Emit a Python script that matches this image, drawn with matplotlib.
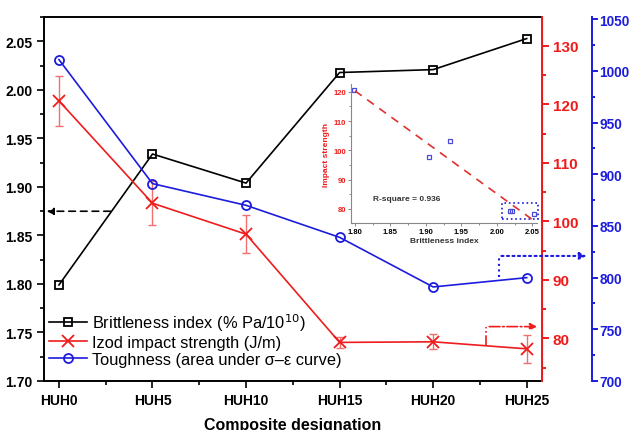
import matplotlib.pyplot as plt
from matplotlib.ticker import MultipleLocator

plt.rcParams['font.family'] = ['Liberation Sans', 'DejaVu Sans']

# data
samples = ['HUH0', 'HUH5', 'HUH10', 'HUH15', 'HUH20', 'HUH25']
brittleness = [1.799, 1.934, 1.904, 2.018, 2.021, 2.053]
impact = [120.6, 103.1, 97.8, 79.3, 79.4, 78.2]
impact_err = [4.3, 3.8, 3.2, 0.9, 1.3, 2.4]
toughness = [1011, 891, 870, 839, 791, 800]

fit_x = [1.80, 2.05]
fit_y = [120.3, 76.4]

x = list(range(len(samples)))

fig = plt.figure(figsize=(6.3, 4.31), dpi=100)
ax = fig.add_axes([0.0698, 0.1137, 0.790, 0.844])
ax2 = ax.twinx()
ax3 = ax.twinx()

red = '#ee1c1c'
blue = '#1c1cdd'

l1, = ax.plot(x, brittleness, color='black', marker='s', ms=5.5, mfc='none',
              mec='black', mew=1.3, lw=1.2)
eb = ax2.errorbar(x, impact, yerr=impact_err, fmt='none', ecolor='#f07070',
                  elinewidth=1, capsize=3, capthick=1)
l2, = ax2.plot(x, impact, color=red, marker='x', ms=9, mew=1.3, lw=1.2)
l3, = ax3.plot(x, toughness, color=blue, marker='o', ms=6.5, mfc='none',
               mec=blue, mew=1.3, lw=1.2)

ax.set_xlim(-0.16, 5.16)
ax.set_ylim(1.70, 2.075)
ax2.set_ylim(72.7, 134.9)
ax3.set_ylim(700, 1052)

ax.set_xticks(x)
ax.set_xticklabels(samples, fontsize=10, fontweight='bold')
ax.xaxis.set_minor_locator(MultipleLocator(0.5))
ax.yaxis.set_major_locator(MultipleLocator(0.05))
ax.yaxis.set_minor_locator(MultipleLocator(0.025))
ax.yaxis.set_major_formatter(plt.FormatStrFormatter('%.2f'))
for lab in ax.get_yticklabels():
    lab.set_fontweight('bold')
    lab.set_fontsize(10)
ax.tick_params(which='major', direction='out', length=5, width=1.2)
ax.tick_params(which='minor', direction='out', length=3, width=1.2)
ax.tick_params(axis='x', which='minor', length=3)
ax.set_xlabel('Composite designation', fontsize=11.5, fontweight='bold', labelpad=7)
for s in ['left', 'bottom', 'top']:
    ax.spines[s].set_linewidth(1.4)

ax2.yaxis.set_major_locator(MultipleLocator(10))
ax2.yaxis.set_minor_locator(MultipleLocator(5))
ax2.spines['right'].set_color(red)
ax2.spines['right'].set_linewidth(1.4)
ax2.tick_params(axis='y', which='major', colors=red, direction='out', length=5,
                width=1.4, labelsize=11, pad=3)
ax2.tick_params(axis='y', which='minor', colors=red, direction='out', length=3,
                width=1.4)
for lab in ax2.get_yticklabels():
    lab.set_fontweight('bold')
for s in ['left', 'top', 'bottom']:
    ax2.spines[s].set_visible(False)

ax3.spines['right'].set_position(('outward', 36))
ax3.spines['right'].set_color(blue)
ax3.spines['right'].set_linewidth(1.4)
ax3.yaxis.set_major_locator(MultipleLocator(50))
ax3.yaxis.set_minor_locator(MultipleLocator(25))
ax3.tick_params(axis='y', which='major', colors=blue, direction='out', length=4,
                width=1.4, labelsize=9.8, pad=1.5)
ax3.tick_params(axis='y', which='minor', colors=blue, direction='out', length=2.5,
                width=1.4)
for lab in ax3.get_yticklabels():
    lab.set_fontweight('bold')
for s in ['left', 'top', 'bottom']:
    ax3.spines[s].set_visible(False)

# arrows pointing to each axis
ax.annotate('', xy=(-0.16, 1.875), xytext=(0.58, 1.875), xycoords='data',
            arrowprops=dict(arrowstyle='-|>', color='black', lw=1.2,
                            linestyle=(0, (4, 3)), mutation_scale=10))
ax3.plot([4.70, 4.70], [801, 821], color=blue, lw=1.5, ls=':', clip_on=False)
ax3.annotate('', xy=(5.67, 821), xytext=(4.70, 821), xycoords='data',
             annotation_clip=False,
             arrowprops=dict(arrowstyle='-|>', color=blue, lw=1.5,
                             linestyle=':', mutation_scale=10))
ax2.plot([4.57, 4.57], [78.7, 82.0], color=red, lw=1.2, ls='-.', clip_on=False)
ax2.annotate('', xy=(5.14, 82.0), xytext=(4.57, 82.0), xycoords='data',
             annotation_clip=False,
             arrowprops=dict(arrowstyle='-|>', color=red, lw=1.2,
                             linestyle='-.', mutation_scale=10))

leg = ax.legend([l1, l2, l3],
                ['Brittleness index (% Pa/10$^{10}$)',
                 'Izod impact strength (J/m)',
                 'Toughness (area under \u03c3\u2013\u03b5 curve)'],
                loc='lower left', bbox_to_anchor=(-0.012, 0.008), frameon=False,
                fontsize=11.8, handlelength=2.3, handletextpad=0.3,
                labelspacing=0.12, borderaxespad=0.3)

# inset: impact strength vs brittleness index
ins = fig.add_axes([0.5567, 0.4796, 0.296, 0.323])
ins.patch.set_alpha(0)
ins.plot(brittleness, impact, ls='none', marker='s', ms=3, mfc='none',
         mec='#4a4ad8', mew=0.9)
ins.plot(fit_x, fit_y, color='#e03030', ls=(0, (5, 4)), lw=1.2)
ins.add_patch(plt.Rectangle((2.008, 76.6), 0.050, 5.3, fill=False,
                            ec=blue, ls=':', lw=1.2, clip_on=False))
ins.text(1.825, 83.4, 'R-square = 0.936', fontsize=6, fontweight='bold',
         color='#333333', va='center')
ins.set_xlim(1.794, 2.057)
ins.set_ylim(75.1, 122.6)
ins.xaxis.set_major_locator(MultipleLocator(0.05))
ins.yaxis.set_major_locator(MultipleLocator(10))
ins.yaxis.set_minor_locator(MultipleLocator(5))
ins.xaxis.set_minor_locator(MultipleLocator(0.025))
ins.xaxis.set_major_formatter(plt.FormatStrFormatter('%.2f'))
ins.tick_params(which='both', direction='out', length=2, width=0.7,
                color='#888888', labelsize=5.5, pad=1.5)
ins.tick_params(which='minor', length=1.2)
ins.tick_params(axis='y', labelcolor=red)
for lab in ins.get_xticklabels() + ins.get_yticklabels():
    lab.set_fontweight('bold')
for s in ['top', 'right']:
    ins.spines[s].set_visible(False)
for s in ['left', 'bottom']:
    ins.spines[s].set_color('#888888')
    ins.spines[s].set_linewidth(0.8)
ins.set_xlabel('Brittleness index', fontsize=6, fontweight='bold',
               color='#333333', labelpad=1)
ins.set_ylabel('Impact strength', fontsize=6, fontweight='bold',
               color=red, labelpad=2)

fig.savefig('out.png', dpi=100)
